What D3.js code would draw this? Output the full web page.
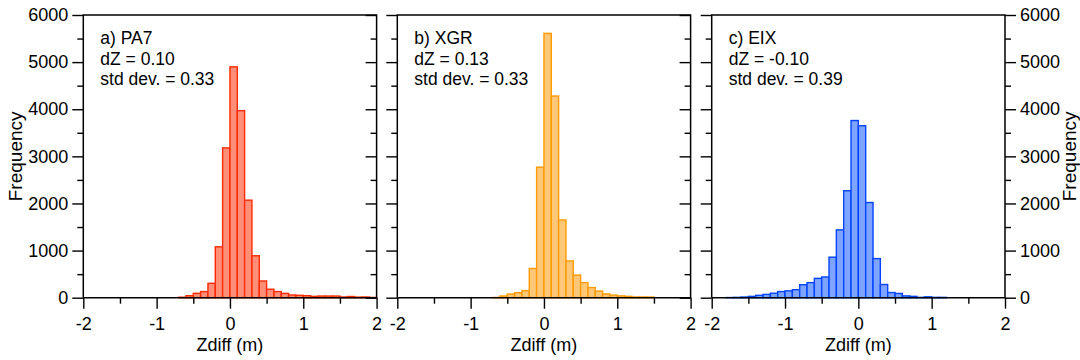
<!DOCTYPE html>
<html>
<head>
<meta charset="utf-8">
<script src="https://cdn.jsdelivr.net/npm/d3@7"></script>
<style>
  html, body { margin: 0; padding: 0; background: #fff; }
  svg { display: block; }
  text { font-family: "Liberation Sans", Arial, sans-serif; fill: #000; }
</style>
</head>
<body>
<svg id="chart" width="1080" height="360"></svg>
<script>
// ---- Data ----
// Left edges of the 0.1 m histogram bins
const binStarts = [-2.0,-1.9,-1.8,-1.7,-1.6,-1.5,-1.4,-1.3,-1.2,-1.1,-1.0,-0.9,-0.8,-0.7,-0.6,-0.5,-0.4,-0.3,-0.2,-0.1,
                   0.0,0.1,0.2,0.3,0.4,0.5,0.6,0.7,0.8,0.9,1.0,1.1,1.2,1.3,1.4,1.5,1.6,1.7,1.8,1.9];
const binWidth = 0.1;

const countsPA7 = [0,0,0,0,0,0,0,0,0,0,0,0,0,10,42,93,130,305,1080,3180,
                   4900,3970,2070,890,355,180,130,92,57,50,42,28,35,35,35,15,25,12,15,5];
const countsXGR = [0,0,0,0,0,0,0,0,0,0,0,0,0,5,36,78,106,150,620,2770,
                   5610,4280,1650,780,480,320,215,140,80,55,38,28,15,15,14,0,0,0,0,0];
const countsEIX = [0,0,3,7,14,28,50,70,95,130,145,170,275,320,410,440,860,1440,2270,3760,
                   3650,2020,830,280,110,90,38,28,7,18,7,7,0,0,0,0,0,0,0,0];

const panelTitles = ["a) PA7", "b) XGR", "c) EIX"];
const panelDZ = ["dZ = 0.10", "dZ = 0.13", "dZ = -0.10"];
const panelStd = ["std dev. = 0.33", "std dev. = 0.33", "std dev. = 0.39"];
const fillColors = ["#ff8f78", "#ffc878", "#7fa4ff"];
const strokeColors = ["#ff2a00", "#ff9a00", "#0044ff"];

const xMajorTicks = [-2, -1, 0, 1, 2];
const xMinorTicks = [-1.5, -0.5, 0.5, 1.5];
const yMajorTicks = [0, 1000, 2000, 3000, 4000, 5000, 6000];
const yMinorTicks = [500, 1500, 2500, 3500, 4500, 5500];
const xTitle = "Zdiff (m)";
const yTitle = "Frequency";

const allCounts = [countsPA7, countsXGR, countsEIX];

// ---- Layout ----
const svg = d3.select("#chart");
const panelLeft = [83.3, 397.3, 711.7];
const panelW = 293.3;
const plotTop = 15, plotBottom = 297.7;
const fs = 18;
const plainFmt = d => String(d);

const y = d3.scaleLinear().domain([0, 6000]).range([plotBottom, plotTop]);

panelLeft.forEach((x0, i) => {
  const x = d3.scaleLinear().domain([-2, 2]).range([x0, x0 + panelW]);
  const g = svg.append("g");
  const bins = binStarts.map((b, k) => ({ x0: b, x1: b + binWidth, n: allCounts[i][k] })).filter(d => d.n > 0);

  g.selectAll("rect.bar").data(bins).enter().append("rect")
    .attr("class", "bar")
    .attr("x", d => x(d.x0))
    .attr("width", d => x(d.x1) - x(d.x0))
    .attr("y", d => y(d.n))
    .attr("height", d => y(0) - y(d.n))
    .attr("fill", fillColors[i])
    .attr("stroke", strokeColors[i])
    .attr("stroke-width", 1.4);

  const styleAxis = sel => {
    sel.select(".domain").remove();
    sel.selectAll("line").attr("stroke", "#000").attr("stroke-width", 1.4);
    sel.selectAll("text").attr("font-size", fs).attr("font-family", "Liberation Sans, Arial, sans-serif");
  };

  // bottom axis
  g.append("g").attr("transform", `translate(0,${plotBottom})`)
    .call(d3.axisBottom(x).tickValues(xMajorTicks).tickSize(11).tickPadding(8.5).tickFormat(plainFmt))
    .call(styleAxis);
  g.append("g").attr("transform", `translate(0,${plotBottom})`)
    .call(d3.axisBottom(x).tickValues(xMinorTicks).tickSize(6).tickFormat(""))
    .call(styleAxis);

  // left axis (outward ticks)
  const leftMaj = d3.axisLeft(y).tickValues(yMajorTicks).tickSize(11).tickPadding(4)
    .tickFormat(i === 0 ? plainFmt : "");
  g.append("g").attr("transform", `translate(${x0},0)`).call(leftMaj).call(styleAxis);
  g.append("g").attr("transform", `translate(${x0},0)`)
    .call(d3.axisLeft(y).tickValues(yMinorTicks).tickSize(6).tickFormat("")).call(styleAxis);

  // right axis
  const x1 = x0 + panelW;
  if (i === 2) {
    g.append("g").attr("transform", `translate(${x1},0)`)
      .call(d3.axisRight(y).tickValues(yMajorTicks).tickSize(11).tickPadding(4).tickFormat(plainFmt)).call(styleAxis);
    g.append("g").attr("transform", `translate(${x1},0)`)
      .call(d3.axisRight(y).tickValues(yMinorTicks).tickSize(6).tickFormat("")).call(styleAxis);
  } else {
    g.append("g").attr("transform", `translate(${x1},0)`)
      .call(d3.axisLeft(y).tickValues(yMajorTicks).tickSize(11).tickFormat("")).call(styleAxis);
    g.append("g").attr("transform", `translate(${x1},0)`)
      .call(d3.axisLeft(y).tickValues(yMinorTicks).tickSize(6).tickFormat("")).call(styleAxis);
  }

  // frame
  g.append("path")
    .attr("d", `M${x0},${plotBottom}V${plotTop}H${x1}V${plotBottom}H${x0}`)
    .attr("fill", "none").attr("stroke", "#000").attr("stroke-width", 1.5);

  // annotations
  [panelTitles[i], panelDZ[i], panelStd[i]].forEach((t, k) => {
    g.append("text").attr("x", x0 + 17).attr("y", 44 + k * 20.7)
      .attr("font-size", 17.5).text(t);
  });

  // x title
  g.append("text").attr("x", x0 + panelW / 2).attr("y", 351)
    .attr("text-anchor", "middle").attr("font-size", fs).text(xTitle);
});

// y titles
svg.append("text").attr("transform", `translate(22,${(plotTop + plotBottom) / 2}) rotate(-90)`)
  .attr("text-anchor", "middle").attr("font-size", 19).text(yTitle);
svg.append("text").attr("transform", `translate(1076,${(plotTop + plotBottom) / 2}) rotate(-90)`)
  .attr("text-anchor", "middle").attr("font-size", 19).text(yTitle);
</script>
</body>
</html>
